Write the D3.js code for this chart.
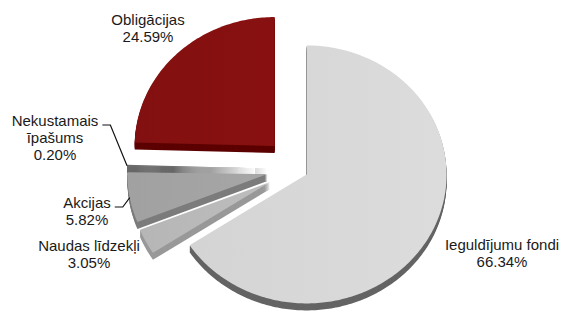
<!DOCTYPE html>
<html>
<head>
<meta charset="utf-8">
<script src="https://cdn.jsdelivr.net/npm/d3@7"></script>
<style>
  body { margin: 0; background: #fff; }
  text { font-family: "Liberation Sans", Arial, sans-serif; font-size: 15px; fill: #1a1a1a; }
</style>
</head>
<body>
<div id="chart"></div>
<script>
// Portfolio structure, clockwise from 12 o'clock
const categories = ['Ieguldījumu fondi', 'Naudas līdzekļi', 'Akcijas', 'Nekustamais īpašums', 'Obligācijas'];
const values = [66.34, 3.05, 5.82, 0.20, 24.59];
const labelLines = [['Ieguldījumu fondi'], ['Naudas līdzekļi'], ['Akcijas'], ['Nekustamais', 'īpašums'], ['Obligācijas']];

// styling per slice
const topColors = ['#d9d9d9', '#bababa', '#a4a4a4', '#6e6e6e', '#861010'];
const wallColors = ['#646464', '#999999', '#7c7c7c', '#686868', '#5c0000'];
const explode = [11, 30, 30, 30, 32];
const labelAnchors = [[502, 250], [89, 251], [87, 208], [55, 126], [148, 25]];
const hasLeader = [false, false, true, true, false];
const drawOrder = [4, 3, 2, 1, 0];

const width = 561, height = 311;
const cx = 297, cy = 169;
const rx = 140, ry = 129;
const depth = 7;
const lineHeight = 17;

const data = categories.map((c, i) => ({ name: c, value: values[i], i }));

const svg = d3.select('#chart')
  .append('svg')
  .attr('width', width)
  .attr('height', height);

const defs = svg.append('defs');
topColors.forEach((c, i) => {
  const g = defs.append('linearGradient')
    .attr('id', 'top-' + i)
    .attr('x1', '0%').attr('x2', '100%')
    .attr('y1', '0%').attr('y2', '0%');
  g.append('stop').attr('offset', '0%').attr('stop-color', d3.color(c).darker(0.06));
  g.append('stop').attr('offset', '100%').attr('stop-color', d3.color(c).brighter(0.04));
});

const pie = d3.pie().value(d => d.value).sort(null);
const slices = pie(data);

// elliptical outline, radial edges keep their true angle
const rho = a => 1 / Math.sqrt((Math.sin(a) / rx) ** 2 + (Math.cos(a) / ry) ** 2);

const radial = d3.lineRadial()
  .angle(p => p.a)
  .radius(p => p.r)
  .curve(d3.curveLinearClosed);

const slicePath = d => {
  const step = Math.PI / 180;
  const angles = d3.range(d.startAngle, d.endAngle, step).concat([d.endAngle]);
  const pts = [{ a: d.startAngle, r: 0 }].concat(angles.map(a => ({ a, r: rho(a) })));
  return radial(pts);
};

const midAngle = d => (d.startAngle + d.endAngle) / 2;
const offsetOf = d => {
  const e = explode[d.data.i];
  return [Math.sin(midAngle(d)) * e, -Math.cos(midAngle(d)) * e];
};

// draw back to front, wall layers first, then the top face
drawOrder.forEach(i => {
  const d = slices[i];
  const [ox, oy] = offsetOf(d);
  const g = svg.append('g')
    .attr('class', 'slice')
    .attr('transform', `translate(${cx + ox},${cy + oy})`);

  g.selectAll('.wall')
    .data(d3.range(depth, 0, -1))
    .enter()
    .append('path')
    .attr('class', 'wall')
    .attr('d', slicePath(d))
    .attr('transform', t => `translate(0,${t})`)
    .attr('fill', wallColors[i]);

  g.append('path')
    .attr('class', 'top')
    .attr('d', slicePath(d))
    .attr('fill', `url(#top-${i})`);
});

// labels
const fmt = d3.format('.2f');
slices.forEach((d, i) => {
  const [lx, ly] = labelAnchors[i];
  const lines = labelLines[i].concat([fmt(d.data.value) + '%']);
  const label = svg.append('text')
    .attr('text-anchor', 'middle')
    .attr('x', lx)
    .attr('y', ly);
  lines.forEach((l, j) => {
    label.append('tspan')
      .attr('x', lx)
      .attr('dy', j === 0 ? 0 : lineHeight)
      .text(l);
  });

  if (hasLeader[i]) {
    const first = label.select('tspan').node();
    const textRight = lx + first.getComputedTextLength() / 2;
    const [ox, oy] = offsetOf(d);
    const a = midAngle(d);
    const end = [cx + ox + Math.sin(a) * rho(a), cy + oy - Math.cos(a) * rho(a)];
    const pts = [[textRight + 4, ly - 1], [textRight + 12, ly - 1], end];
    svg.append('path')
      .attr('d', d3.line()(pts))
      .attr('fill', 'none')
      .attr('stroke', '#111')
      .attr('stroke-width', 1.2);
  }
});
</script>
</body>
</html>
